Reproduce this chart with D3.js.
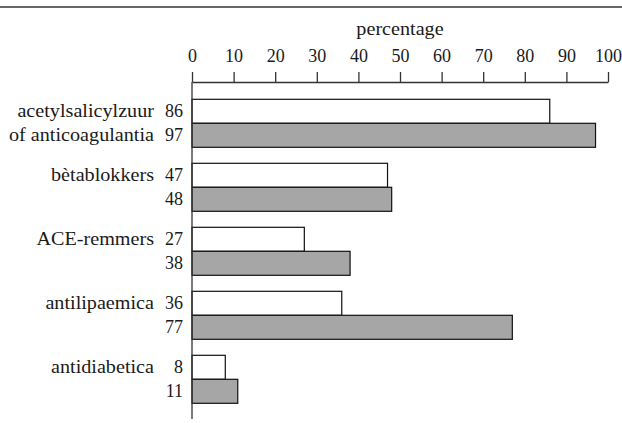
<!DOCTYPE html>
<html>
<head>
<meta charset="utf-8">
<script src="https://cdn.jsdelivr.net/npm/d3@7"></script>
<style>
  body { margin: 0; background: #fff; }
</style>
</head>
<body>
<div id="wrapper"></div>
<script>
const WHITE_COLOR = "#ffffff";
const GREY_COLOR = "#a6a6a6";
const LINE_COLOR = "#333333";
const TEXT_COLOR = "#1a1a1a";
const FONT = "'Liberation Serif', 'Times New Roman', serif";
const WORD_STRETCH = 1.12; // the words of the original are set a bit wider than Liberation Serif

// one group per medicine class, label may be split over two lines
const categories = ["acetylsalicylzuur of anticoagulantia", "bètablokkers", "ACE-remmers", "antilipaemica", "antidiabetica"];
const labelLines = [
  ["acetylsalicylzuur", "of anticoagulantia"],
  ["bètablokkers"],
  ["ACE-remmers"],
  ["antilipaemica"],
  ["antidiabetica"]
];
const series = ["wit", "grijs"];
const whiteValues = [86, 47, 27, 36, 8];
const greyValues = [97, 48, 38, 77, 11];
const xTicks = [0, 10, 20, 30, 40, 50, 60, 70, 80, 90, 100];
const axisTitle = "percentage";

function styleText(sel) {
  return sel
    .attr("fill", TEXT_COLOR)
    .attr("font-family", FONT)
    .style("font-family", FONT)
    .style("font-size", "18px");
}

function drawBars() {
  const data = categories.map((c, i) => ({
    category: c,
    lines: labelLines[i],
    values: [whiteValues[i], greyValues[i]]
  }));

  let dimensions = {
    width: 622,
    height: 423,
    margin: { top: 82, right: 14, bottom: 4, left: 192 }
  };
  dimensions.boundedWidth = dimensions.width - dimensions.margin.left - dimensions.margin.right;
  dimensions.boundedHeight = dimensions.height - dimensions.margin.top - dimensions.margin.bottom;

  const wrapper = d3.select("#wrapper")
    .append("svg")
    .attr("width", dimensions.width)
    .attr("height", dimensions.height);

  // rule across the top
  wrapper.append("line")
    .attr("x1", 0)
    .attr("x2", dimensions.width)
    .attr("y1", 7)
    .attr("y2", 7)
    .attr("stroke", LINE_COLOR)
    .attr("stroke-width", 1.5);

  const bounds = wrapper.append("g")
    .attr("transform", `translate(${dimensions.margin.left},${dimensions.margin.top})`);

  const xScale = d3.scaleLinear()
    .domain([0, 100])
    .range([0, dimensions.boundedWidth]);

  const yScale = d3.scaleBand()
    .domain(categories)
    .range([17.3, 321.3])
    .paddingInner(0.25)
    .paddingOuter(0);

  const subScale = d3.scaleBand()
    .domain(series)
    .range([0, yScale.bandwidth()]);

  const groups = bounds.selectAll("g.group")
    .data(data)
    .enter().append("g")
    .attr("class", "group")
    .attr("transform", d => `translate(0,${yScale(d.category)})`);

  groups.selectAll("rect")
    .data(d => d.values.map((v, i) => ({ key: series[i], value: v })))
    .enter().append("rect")
    .attr("x", 0)
    .attr("y", d => subScale(d.key))
    .attr("width", d => xScale(d.value))
    .attr("height", subScale.bandwidth())
    .attr("fill", d => d.key === "wit" ? WHITE_COLOR : GREY_COLOR)
    .attr("stroke", "#111")
    .attr("stroke-width", 1.2);

  // value labels
  groups.selectAll("text.value")
    .data(d => d.values.map((v, i) => ({ key: series[i], value: v })))
    .enter().append("text")
    .attr("class", "value")
    .attr("x", -9)
    .attr("y", d => subScale(d.key) + subScale.bandwidth() / 2 + 6)
    .style("text-anchor", "end")
    .text(d => d.value)
    .call(styleText);

  // category labels
  groups.selectAll("text.cat")
    .data(d => d.lines)
    .enter().append("text")
    .attr("class", "cat")
    .attr("transform", (d, i) => `translate(-38,${subScale(series[i]) + subScale.bandwidth() / 2 + 6}) scale(${WORD_STRETCH},1)`)
    .style("text-anchor", "end")
    .text(d => d)
    .call(styleText);

  // x axis on top
  const xAxisGenerator = d3.axisTop(xScale)
    .tickValues(xTicks)
    .tickSize(10)
    .tickSizeOuter(0)
    .tickPadding(10);

  const xAxis = bounds.append("g").call(xAxisGenerator)
    .attr("font-family", FONT);
  xAxis.select(".domain").attr("stroke", LINE_COLOR).attr("stroke-width", 1.3);
  xAxis.selectAll(".tick line").attr("stroke", LINE_COLOR).attr("stroke-width", 1.3);
  xAxis.selectAll(".tick text").call(styleText);

  bounds.append("text")
    .attr("transform", `translate(${xScale(50)},${35 - dimensions.margin.top}) scale(${WORD_STRETCH},1)`)
    .style("text-anchor", "middle")
    .text(axisTitle)
    .call(styleText);

  // vertical axis line
  bounds.append("line")
    .attr("x1", 0)
    .attr("x2", 0)
    .attr("y1", 0)
    .attr("y2", 337)
    .attr("stroke", LINE_COLOR)
    .attr("stroke-width", 1.3);
}

drawBars();
</script>
</body>
</html>
